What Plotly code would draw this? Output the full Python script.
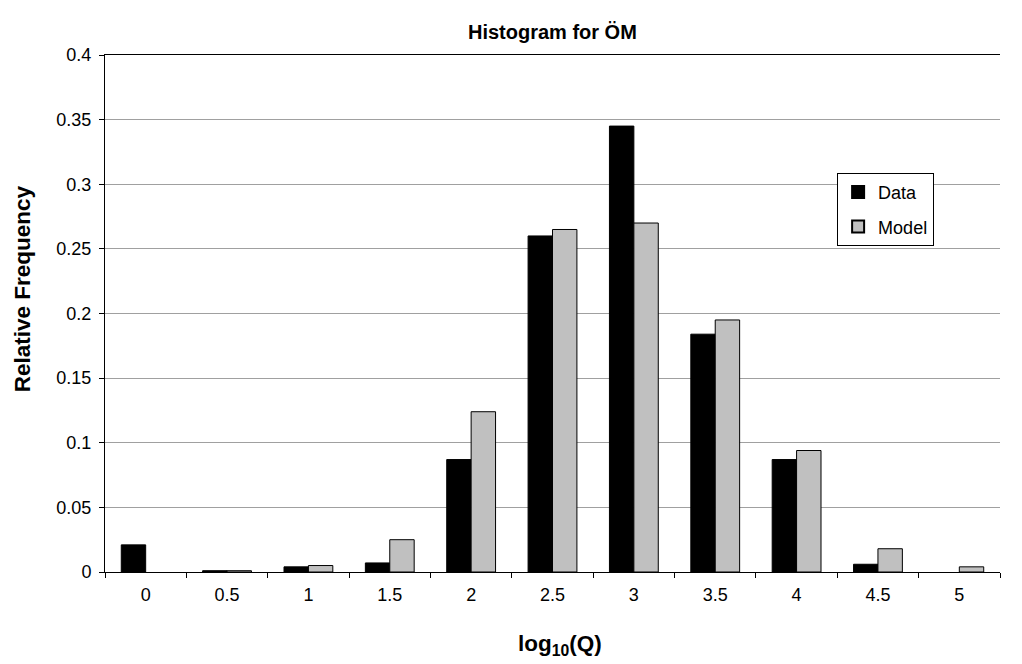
import plotly.graph_objects as go

categories = ["0", "0.5", "1", "1.5", "2", "2.5", "3", "3.5", "4", "4.5", "5"]
data_vals = [0.021, 0.001, 0.004, 0.007, 0.087, 0.260, 0.345, 0.184, 0.087, 0.006, None]
model_vals = [None, 0.001, 0.005, 0.025, 0.124, 0.265, 0.270, 0.195, 0.094, 0.018, 0.004]

fig = go.Figure()
fig.add_trace(go.Bar(x=categories, y=data_vals, name="Data", legendgroup="d",
                     marker=dict(color="black", line=dict(color="black", width=1))))
fig.add_trace(go.Bar(x=categories, y=model_vals, name="Model", legendgroup="m",
                     marker=dict(color="#c0c0c0", line=dict(color="black", width=1))))

fig.update_layout(
    width=1022, height=664,
    margin=dict(l=105, r=22, t=55, b=92),
    paper_bgcolor="white", plot_bgcolor="white",
    barmode="group", bargap=0.4, bargroupgap=0,
    font=dict(family="Arial, Liberation Sans, sans-serif", size=18, color="black"),
    title=dict(text="<b>Histogram for ÖM</b>", x=0.5405, xanchor="center",
               y=1 - 32 / 664, yanchor="middle", font=dict(size=20)),
    legend=dict(x=0.818, y=0.772, xanchor="left", yanchor="top",
                bordercolor="black", borderwidth=1, bgcolor="white",
                font=dict(size=18), itemsizing="constant", tracegroupgap=8),
    showlegend=True,
    annotations=[
        dict(text="<b>Relative Frequency</b>", xref="paper", yref="paper",
             x=-0.0927, y=0.547, xanchor="center", yanchor="middle",
             textangle=-90, showarrow=False, font=dict(size=22.5)),
        dict(text="<b>log<sub>10</sub>(Q)</b>", xref="paper", yref="paper",
             x=0.508, y=-0.141, xanchor="center", yanchor="middle",
             showarrow=False, font=dict(size=22.5)),
    ],
)
fig.update_xaxes(
    type="category", showline=True, linecolor="black", linewidth=1, mirror=True,
    ticks="outside", tickson="boundaries", ticklen=5, tickcolor="black",
    ticklabelstandoff=6,
    showgrid=False, automargin=False,
)
fig.update_yaxes(
    range=[0, 0.4], dtick=0.05, tickformat="~g",
    showline=True, linecolor="black", linewidth=1,
    ticks="outside", ticklen=5, tickcolor="black", ticklabelstandoff=4,
    showgrid=True, gridcolor="#a0a0a0", gridwidth=1, zeroline=False, automargin=False,
)

fig.write_html("out.html")
